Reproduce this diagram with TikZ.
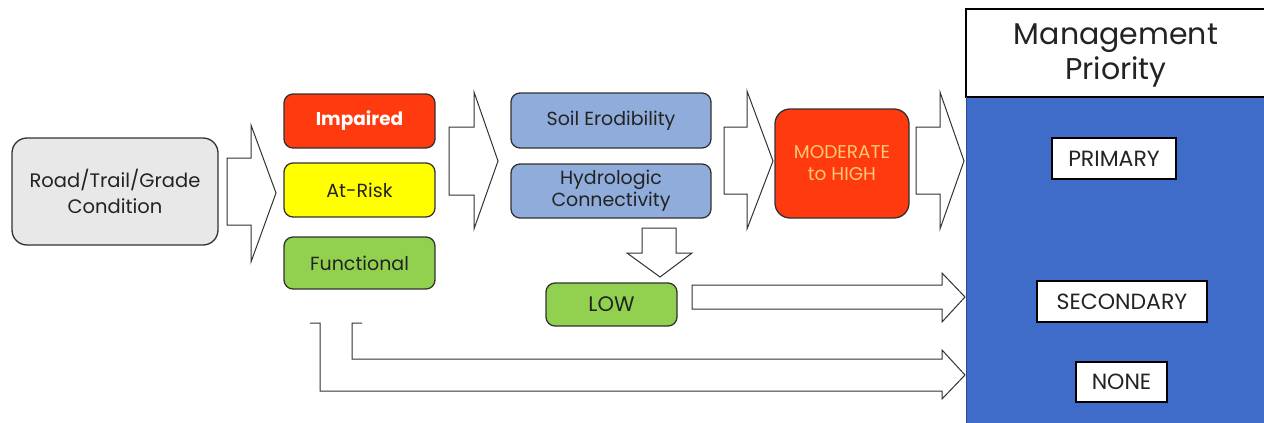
\documentclass[tikz,border=0pt]{standalone}
\usepackage{fontspec}
\setmainfont{Poppins}
\definecolor{roadgray}{RGB}{232,232,232}
\definecolor{impred}{RGB}{255,58,14}
\definecolor{riskyel}{RGB}{255,255,0}
\definecolor{fungreen}{RGB}{146,208,80}
\definecolor{soilblue}{RGB}{143,172,218}
\definecolor{mgmtblue}{RGB}{62,108,200}
\definecolor{peach}{RGB}{255,200,120}
\definecolor{edge}{RGB}{50,50,50}
\definecolor{ink}{RGB}{35,35,35}
\tikzset{
  box/.style={draw=edge, line width=1.3pt, rounded corners=9pt, align=center, inner sep=0pt, text=ink, font=\fontsize{19}{23}\selectfont},
  bigbox/.style={box, rounded corners=15pt},
  tag/.style={draw=black, line width=1.2pt, fill=white, inner sep=0pt, text=ink, font=\fontsize{22}{26}\selectfont},
  blockarrow/.style={draw=edge, line width=1pt, fill=white, line join=miter},
}
\begin{document}
\begin{tikzpicture}[x=1pt,y=-1pt]
\useasboundingbox (0,0) rectangle (1264,423);
% management panel
\fill[mgmtblue] (966,97) rectangle (1264,423);
\draw[line width=1.2pt, fill=white] (1264,9) -- (966,9) -- (966,97) -- (1264,97);
\draw[mgmtblue!70!black, line width=1pt] (966,97) -- (966,423);
\node[align=center, text=ink, font=\fontsize{30}{35}\selectfont] (mp) at (1116,55) {Management\\Priority};
\node[tag, minimum width=124pt, minimum height=41pt] (primary) at (1114,158.5) {PRIMARY};
\node[tag, minimum width=170pt, minimum height=41pt] (secondary) at (1122,301.5) {SECONDARY};
\node[tag, minimum width=91pt, minimum height=40pt] (none) at (1121.5,382) {NONE};

% boxes
\node[bigbox, fill=roadgray, minimum width=206pt, minimum height=107pt, font=\fontsize{19.5}{26}\selectfont] (road) at (115,191.5) {Road/Trail/Grade\\Condition};
\node[box, fill=impred, text=white, minimum width=151pt, minimum height=54pt, font=\fontsize{18.5}{22}\selectfont\bfseries] (imp) at (359.5,121) {Impaired};
\node[box, fill=riskyel, minimum width=151pt, minimum height=54pt] (risk) at (359.5,190) {At-Risk};
\node[box, fill=fungreen, minimum width=151pt, minimum height=52pt] (func) at (359.5,263) {Functional};
\node[box, fill=soilblue, minimum width=200pt, minimum height=55pt] (soil) at (611,120.5) {Soil Erodibility};
\node[box, fill=soilblue, minimum width=200pt, minimum height=54pt, font=\fontsize{19}{22}\selectfont] (hydro) at (611,191) {Hydrologic\\Connectivity};
\node[bigbox, fill=impred, text=peach, minimum width=134pt, minimum height=109pt, font=\fontsize{18.5}{22}\selectfont] (mod) at (842,163.5) {MODERATE\\to HIGH};
\node[box, fill=fungreen, minimum width=131pt, minimum height=43pt, font=\fontsize{21}{24}\selectfont] (low) at (611.5,304.5) {LOW};

% block arrows
\draw[blockarrow] (227,158) -- (251,158) -- (251,125) -- (276,193) -- (251,262) -- (251,225) -- (227,225) -- cycle;
\draw[blockarrow] (449,127) -- (474,127) -- (474,92) -- (498,161) -- (474,229) -- (474,195) -- (449,195) -- cycle;
\draw[blockarrow] (724,127) -- (747,127) -- (747,91) -- (773,161) -- (747,229) -- (747,194) -- (724,194) -- cycle;
\draw[blockarrow] (916,127) -- (940,127) -- (940,92) -- (964,161) -- (940,229) -- (940,194) -- (916,194) -- cycle;
\draw[blockarrow] (642,228) -- (676,228) -- (676,253) -- (692,253) -- (660,277) -- (627,253) -- (642,253) -- cycle;
\draw[blockarrow] (692,285) -- (942,285) -- (942,273) -- (965,297) -- (942,322) -- (942,309) -- (692,309) -- cycle;
\fill[white] (320,323) -- (320,391) -- (942,391) -- (942,399) -- (965,375) -- (942,350) -- (942,359) -- (352,359) -- (352,323) -- cycle;
\draw[edge, line width=1pt, line join=miter] (310,323) -- (320,323) -- (320,391) -- (942,391) -- (942,399) -- (965,375) -- (942,350) -- (942,359) -- (352,359) -- (352,323) -- (362,323);
\end{tikzpicture}
\end{document}
